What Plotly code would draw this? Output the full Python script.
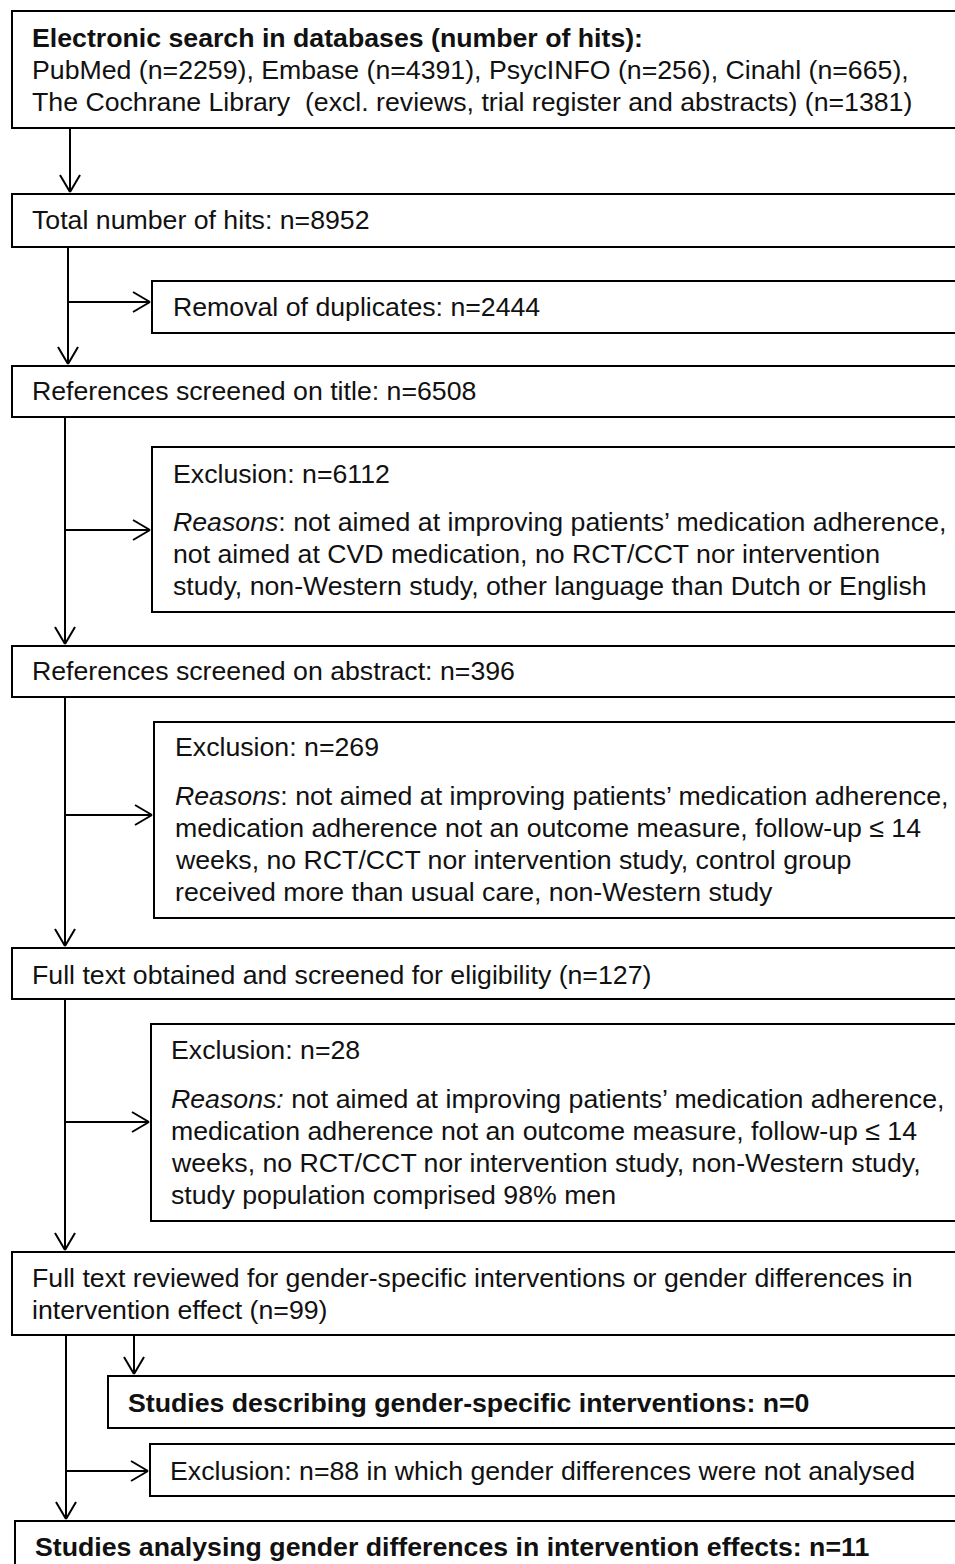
import plotly.graph_objects as go

# ---------------- data (counts from the flow diagram) ----------------
search_databases = ["PubMed", "Embase", "PsycINFO", "Cinahl"]
search_hits = [2259, 4391, 256, 665]
cochrane_hits = 1381
total_hits = 8952
duplicates_removed = 2444
screened_title = 6508
excluded_title = 6112
screened_abstract = 396
excluded_abstract = 269
fulltext_screened = 127
excluded_fulltext = 28
fulltext_reviewed = 99
gender_specific = 0
excluded_not_analysed = 88
analysing_differences = 11

reasons_title = [
    "not aimed at improving patients\u2019 medication adherence,",
    "not aimed at CVD medication, no RCT/CCT nor intervention",
    "study, non-Western study, other language than Dutch or English",
]
reasons_abstract = [
    "not aimed at improving patients\u2019 medication adherence,",
    "medication adherence not an outcome measure, follow-up \u2264 14",
    "weeks, no RCT/CCT nor intervention study, control group",
    "received more than usual care, non-Western study",
]
reasons_fulltext = [
    "not aimed at improving patients\u2019 medication adherence,",
    "medication adherence not an outcome measure, follow-up \u2264 14",
    "weeks, no RCT/CCT nor intervention study, non-Western study,",
    "study population comprised 98% men",
]

# ---------------- text lines ----------------
db_line = ", ".join(f"{d} (n={n})" for d, n in zip(search_databases, search_hits)) + ","
box_texts = [
    # (x, y, text)
    (32, 38, "<b>Electronic search in databases (number of hits):</b>"),
    (32, 70, db_line),
    (32, 102, f"The Cochrane Library  (excl. reviews, trial register and abstracts) (n={cochrane_hits})"),
    (32, 220, f"Total number of hits: n={total_hits}"),
    (173, 307, f"Removal of duplicates: n={duplicates_removed}"),
    (32, 391, f"References screened on title: n={screened_title}"),
    (173, 474, f"Exclusion: n={excluded_title}"),
    (173, 522, "<i>Reasons</i>: " + reasons_title[0]),
    (173, 554, reasons_title[1]),
    (173, 586, reasons_title[2]),
    (32, 671, f"References screened on abstract: n={screened_abstract}"),
    (175, 747, f"Exclusion: n={excluded_abstract}"),
    (175, 796, "<i>Reasons</i>: " + reasons_abstract[0]),
    (175, 828, reasons_abstract[1]),
    (175, 860, reasons_abstract[2]),
    (175, 892, reasons_abstract[3]),
    (32, 975, f"Full text obtained and screened for eligibility (n={fulltext_screened})"),
    (171, 1050, f"Exclusion: n={excluded_fulltext}"),
    (171, 1099, "<i>Reasons:</i> " + reasons_fulltext[0]),
    (171, 1131, reasons_fulltext[1]),
    (171, 1163, reasons_fulltext[2]),
    (171, 1195, reasons_fulltext[3]),
    (32, 1278, "Full text reviewed for gender-specific interventions or gender differences in"),
    (32, 1310, f"intervention effect (n={fulltext_reviewed})"),
    (128, 1403, f"<b>Studies describing gender-specific interventions: n={gender_specific}</b>"),
    (170, 1471, f"Exclusion: n={excluded_not_analysed} in which gender differences were not analysed"),
    (35, 1547, f"<b>Studies analysing gender differences in intervention effects: n={analysing_differences}</b>"),
]

W, H = 955, 1564
RIGHT = 980
shapes = []


def seg(x0, y0, x1, y1):
    shapes.append(dict(type="line", x0=x0, y0=y0, x1=x1, y1=y1,
                       line=dict(color="black", width=2)))


def box(x0, y0, y1):
    shapes.append(dict(type="rect", x0=x0, y0=y0, x1=RIGHT, y1=y1,
                       line=dict(color="black", width=2),
                       fillcolor="rgba(0,0,0,0)"))


def head_down(x, y):
    seg(x - 10, y - 17, x, y)
    seg(x + 10, y - 17, x, y)


def head_right(x, y):
    seg(x - 17, y - 10, x, y)
    seg(x - 17, y + 10, x, y)


# boxes
box(12, 11, 128)
box(12, 194, 247)
box(152, 281, 333)
box(12, 366, 417)
box(152, 447, 612)
box(12, 646, 697)
box(154, 722, 918)
box(12, 948, 999)
box(151, 1024, 1221)
box(12, 1252, 1335)
box(108, 1376, 1428)
box(150, 1444, 1496)
box(15, 1521, 1600)

# connectors
seg(70, 128, 70, 192); head_down(70, 192)
seg(68, 247, 68, 364); head_down(68, 364)
seg(68, 302, 150, 302); head_right(150, 302)
seg(65, 417, 65, 644); head_down(65, 644)
seg(65, 530, 150, 530); head_right(150, 530)
seg(65, 697, 65, 946); head_down(65, 946)
seg(65, 815, 152, 815); head_right(152, 815)
seg(65, 999, 65, 1250); head_down(65, 1250)
seg(65, 1122, 149, 1122); head_right(149, 1122)
seg(66, 1335, 66, 1519); head_down(66, 1519)
seg(134, 1335, 134, 1374); head_down(134, 1374)
seg(66, 1471, 148, 1471); head_right(148, 1471)

fig = go.Figure()
fig.add_trace(go.Scatter(x=[0, W], y=[0, H], mode="markers",
                         marker=dict(opacity=0), hoverinfo="skip", showlegend=False))

annotations = [
    dict(x=x - 2, y=y, text=t, xref="x", yref="y", xanchor="left", yanchor="middle",
         showarrow=False, font=dict(family="Liberation Sans, Arial, sans-serif",
                                    size=26.7, color="#111111"))
    for x, y, t in box_texts
]

fig.update_layout(
    width=W, height=H,
    margin=dict(l=0, r=0, t=0, b=0),
    paper_bgcolor="white", plot_bgcolor="white",
    shapes=shapes, annotations=annotations,
    xaxis=dict(range=[0, W], visible=False, fixedrange=True),
    yaxis=dict(range=[H, 0], visible=False, fixedrange=True),
    showlegend=False,
)
fig.write_html(
    "out.html",
    config={"displayModeBar": False},
    post_script="document.body.style.margin='0';document.body.style.overflow='hidden';",
)
